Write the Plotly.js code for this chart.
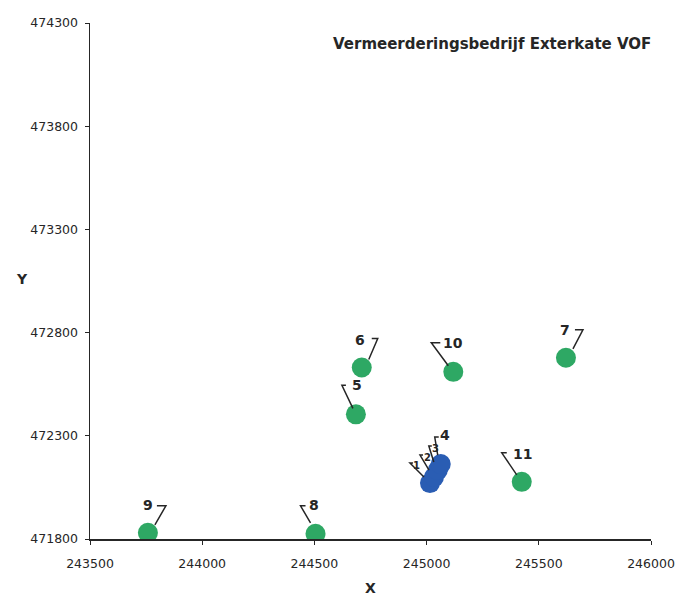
<!DOCTYPE html>
<html>
<head>
<meta charset="utf-8">
<script src="https://cdn.plot.ly/plotly-3.0.1.min.js"></script>
<style>html,body{margin:0;padding:0;background:#fff;}#chart{width:677px;height:596px;}</style>
</head>
<body>
<div id="chart"></div>
<script>
// ---- data ----
const blueLabels = ['1', '2', '3', '4'];
const blueX = [245015, 245033, 245050, 245063];
const blueY = [472071, 472100, 472134, 472163];

const greenLabels = ['5', '6', '7', '8', '9', '10', '11'];
const greenX = [244685, 244711, 245621, 244505, 243758, 245119, 245424];
const greenY = [472404, 472631, 472678, 471825, 471830, 472610, 472077];

const xTicks = [243500, 244000, 244500, 245000, 245500, 246000];
const yTicks = [471800, 472300, 472800, 473300, 473800, 474300];

const chartTitle = 'Vermeerderingsbedrijf Exterkate VOF';

// ---- label/leader styling (pixel offsets from each point, screen y down) ----
const leaderStyle = {
  '1':  {path: [[-6,-6],[-20,-20],[-17,-20]], text: [-13,-18], size: 10},
  '2':  {path: [[-5,-7],[-14,-22],[-11,-22]], text: [-7,-20], size: 10},
  '3':  {path: [[-4,-8],[-9,-24],[-6,-24]], text: [-2,-22], size: 10},
  '4':  {path: [[-3,-9],[-6,-27],[-2,-27]], text: [4,-29], size: 14},
  '5':  {path: [[-3,-6],[-14,-29],[-10,-29]], text: [1,-29], size: 14},
  '6':  {path: [[7,-8],[16,-29],[10,-29]], text: [-2,-27], size: 14},
  '7':  {path: [[7,-9],[17,-28],[9,-28]], text: [-1,-28], size: 14},
  '8':  {path: [[-5,-11],[-15,-28],[-10,-28]], text: [-2,-29], size: 14},
  '9':  {path: [[7,-8],[18,-27],[9,-27]], text: [0,-28], size: 14},
  '10': {path: [[-5,-6],[-22,-29],[-13,-29]], text: [0,-29], size: 14},
  '11': {path: [[-5,-7],[-20,-29],[-15,-29]], text: [1,-28], size: 14}
};

const FONT = 'DejaVu Sans, Liberation Sans, sans-serif';
const INK = '#262626';

const traces = [
  {
    type: 'scatter', mode: 'markers', name: 'blue',
    x: blueX, y: blueY, text: blueLabels,
    marker: {color: '#2a5db3', size: 20, line: {width: 0}},
    hoverinfo: 'text+x+y'
  },
  {
    type: 'scatter', mode: 'markers', name: 'green',
    x: greenX, y: greenY, text: greenLabels,
    marker: {color: '#2ea864', size: 20, line: {width: 0}},
    hoverinfo: 'text+x+y'
  }
];

const shapes = [];
const annotations = [];
function addLabels(labels, xs, ys) {
  labels.forEach((lab, i) => {
    const st = leaderStyle[lab];
    const p = st.path.map((pt, k) => (k === 0 ? 'M' : 'L') + pt[0] + ',' + (-pt[1])).join(' ');
    shapes.push({
      type: 'path', xref: 'x', yref: 'y',
      xsizemode: 'pixel', ysizemode: 'pixel',
      xanchor: xs[i], yanchor: ys[i],
      path: p,
      line: {color: INK, width: 1.5}
    });
    annotations.push({
      x: xs[i], y: ys[i], xref: 'x', yref: 'y',
      text: '<b>' + lab + '</b>', showarrow: false,
      xshift: st.text[0], yshift: -st.text[1],
      font: {family: FONT, size: st.size, color: INK}
    });
  });
}
addLabels(greenLabels, greenX, greenY);
addLabels(blueLabels, blueX, blueY);

annotations.push({
  xref: 'paper', yref: 'paper', x: -0.135, y: 0.504,
  text: '<b>Y</b>', showarrow: false,
  font: {family: FONT, size: 14, color: INK}
});

const layout = {
  width: 677, height: 596,
  margin: {l: 90, r: 26, t: 23, b: 57, pad: 0},
  paper_bgcolor: '#ffffff', plot_bgcolor: '#ffffff',
  showlegend: false,
  title: {
    text: '<b>' + chartTitle + '</b>',
    xref: 'container', yref: 'container',
    x: 0.727, xanchor: 'center', y: 0.926, yanchor: 'middle',
    font: {family: FONT, size: 15, color: INK}
  },
  xaxis: {
    range: [243500, 246000], tickvals: xTicks, ticktext: xTicks.map(String),
    showgrid: false, zeroline: false,
    showline: true, linecolor: INK, linewidth: 1.5,
    ticks: 'outside', ticklen: 4, tickcolor: INK, tickwidth: 1,
    ticklabelstandoff: 8,
    tickfont: {family: FONT, size: 12.5, color: INK},
    title: {text: '<b>X</b>', standoff: 14, font: {family: FONT, size: 14, color: INK}}
  },
  yaxis: {
    range: [471800, 474300], tickvals: yTicks, ticktext: yTicks.map(String),
    showgrid: false, zeroline: false,
    showline: true, linecolor: INK, linewidth: 1.5,
    ticks: 'outside', ticklen: 4, tickcolor: INK, tickwidth: 1,
    ticklabelstandoff: 4,
    tickfont: {family: FONT, size: 12.5, color: INK}
  },
  shapes: shapes,
  annotations: annotations
};

Plotly.newPlot('chart', traces, layout, {displayModeBar: false, staticPlot: true});
</script>
</body>
</html>
